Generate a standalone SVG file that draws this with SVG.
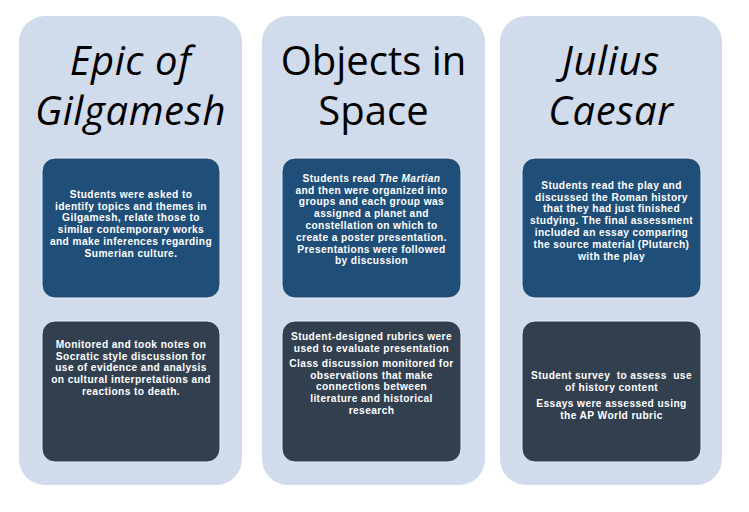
<svg xmlns="http://www.w3.org/2000/svg" width="749" height="512" viewBox="0 0 749 512">
<style>
.panel{fill:#D0DBEC}
.top{fill:#1F4E79;stroke:#E8EEF6;stroke-width:1}
.bot{fill:#323F4F;stroke:#E8EEF6;stroke-width:1}
.title{font-family:"Open Sans","Liberation Sans",sans-serif;font-size:40px;fill:#000;text-anchor:middle}
.it{font-style:italic;letter-spacing:0.6px}
.body{font-family:"Liberation Sans",Arial,sans-serif;font-size:10.2px;font-weight:bold;letter-spacing:0.4px;fill:#FFFFFF;text-anchor:middle}
</style>
<rect width="749" height="512" fill="#FFFFFF"/>
<g id="panel-gilgamesh">
<rect class="panel" x="19" y="16" width="223" height="469" rx="26"/>
<text class="title it"><tspan x="130.5" y="75">Epic of</tspan><tspan x="130.5" y="125">Gilgamesh</tspan></text>
</g>
<g id="panel-space">
<rect class="panel" x="262" y="16" width="223" height="469" rx="26"/>
<text class="title"><tspan x="373.5" y="75">Objects in</tspan><tspan x="373.5" y="125">Space</tspan></text>
</g>
<g id="panel-caesar">
<rect class="panel" x="500" y="16" width="222" height="469" rx="26"/>
<text class="title it"><tspan x="611" y="75">Julius</tspan><tspan x="611" y="125">Caesar</tspan></text>
</g>
<g id="gilgamesh-activity">
<rect class="top" x="42" y="158" width="178" height="140" rx="13"/>
<text class="body"><tspan x="131" y="197.7">Students were asked to</tspan><tspan x="131" y="209.5">identify topics and themes in</tspan><tspan x="131" y="221.3">Gilgamesh, relate those to</tspan><tspan x="131" y="233.1">similar contemporary works</tspan><tspan x="131" y="244.9">and make inferences regarding</tspan><tspan x="131" y="256.7">Sumerian culture.</tspan></text>
</g>
<g id="gilgamesh-assessment">
<rect class="bot" x="42" y="321" width="178" height="141" rx="13"/>
<text class="body"><tspan x="131" y="347.7">Monitored and took notes on</tspan><tspan x="131" y="359.5">Socratic style discussion for</tspan><tspan x="131" y="371.3">use of evidence and analysis</tspan><tspan x="131" y="383.1">on cultural interpretations and</tspan><tspan x="131" y="394.9">reactions to death.</tspan></text>
</g>
<g id="space-activity">
<rect class="top" x="282" y="158" width="179" height="140" rx="13"/>
<text class="body"><tspan x="371.5" y="181.7">Students read <tspan font-style="italic">The Martian</tspan></tspan><tspan x="371.5" y="193.5">and then were organized into</tspan><tspan x="371.5" y="205.3">groups and each group was</tspan><tspan x="371.5" y="217.1">assigned a planet and</tspan><tspan x="371.5" y="228.9">constellation on which to</tspan><tspan x="371.5" y="240.7">create a poster presentation.</tspan><tspan x="371.5" y="252.5">Presentations were followed</tspan><tspan x="371.5" y="264.3">by discussion</tspan></text>
</g>
<g id="space-assessment">
<rect class="bot" x="282" y="321" width="179" height="141" rx="13"/>
<text class="body"><tspan x="371.5" y="339.7">Student-designed rubrics were</tspan><tspan x="371.5" y="351.5">used to evaluate presentation</tspan><tspan x="371.5" y="366.7">Class discussion monitored for</tspan><tspan x="371.5" y="378.5">observations that make</tspan><tspan x="371.5" y="390.3">connections between</tspan><tspan x="371.5" y="402.1">literature and historical</tspan><tspan x="371.5" y="413.9">research</tspan></text>
</g>
<g id="caesar-activity">
<rect class="top" x="522" y="158" width="179" height="140" rx="13"/>
<text class="body"><tspan x="611.5" y="188.7">Students read the play and</tspan><tspan x="611.5" y="200.5">discussed the Roman history</tspan><tspan x="611.5" y="212.3">that they had just finished</tspan><tspan x="611.5" y="224.1">studying. The final assessment</tspan><tspan x="611.5" y="235.9">included an essay comparing</tspan><tspan x="611.5" y="247.7">the source material (Plutarch)</tspan><tspan x="611.5" y="259.5">with the play</tspan></text>
</g>
<g id="caesar-assessment">
<rect class="bot" x="522" y="321" width="179" height="141" rx="13"/>
<text class="body" xml:space="preserve"><tspan x="611.5" y="378.7">Student survey  to assess  use</tspan><tspan x="611.5" y="390.5">of history content</tspan><tspan x="611.5" y="406.7">Essays were assessed using</tspan><tspan x="611.5" y="418.5">the AP World rubric</tspan></text>
</g>
<g id="connectors"></g>
</svg>
